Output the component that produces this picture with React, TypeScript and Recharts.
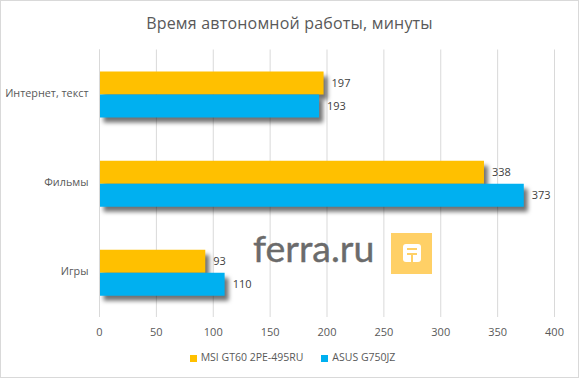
import React from 'react';
import { BarChart, Bar, XAxis, YAxis, CartesianGrid, Legend, LabelList, Rectangle } from 'recharts';

const categories = ['Интернет, текст', 'Фильмы', 'Игры'];
const msiValues = [197, 338, 93];
const asusValues = [193, 373, 110];
const xTicks = [0, 50, 100, 150, 200, 250, 300, 350, 400];

const data = categories.map((name, i) => ({ name, msi: msiValues[i], asus: asusValues[i] }));

const FONT = '"Open Sans", sans-serif';
const TEXT = '#595959';
const LOGO = '#ffd066';

const ShadowBar = (props: any) => (
  <Rectangle {...props} style={{ filter: 'drop-shadow(4px 5px 2px rgba(0,0,0,0.55))' }} />
);

// plain tick so the long label stays on one line
const CategoryTick = ({ x, y, payload }: any) => (
  <text x={x - 3} y={y} dy={3} textAnchor="end" fontSize={10.8} fill={TEXT} fontFamily={FONT}>
    {payload.value}
  </text>
);

const slit = (left: number, top: number, width: number, height: number) => (
  <div style={{ position: 'absolute', left, top, width, height, background: LOGO }} />
);

const App: React.FC = () => {
  return (
    <div style={{ position: 'absolute', left: 0, top: 0, width: 579, height: 378, background: '#fff', fontFamily: FONT, overflow: 'hidden' }}>
      <BarChart
        width={579}
        height={378}
        data={data}
        layout="vertical"
        barGap={0}
        barSize={23}
        margin={{ top: 49.5, right: 24.5, bottom: 17, left: 0 }}
      >
        <CartesianGrid horizontal={false} stroke="#d9d9d9" strokeWidth={1} />
        <XAxis
          type="number"
          domain={[0, 400]}
          ticks={xTicks}
          axisLine={false}
          tickLine={false}
          interval={0}
          tickMargin={5}
          tick={{ fontSize: 11, fill: TEXT, fontFamily: FONT }}
        />
        <YAxis
          type="category"
          dataKey="name"
          width={99.5}
          axisLine={{ stroke: '#d9d9d9' }}
          tickLine={false}
          tick={CategoryTick}
        />
        <Bar dataKey="msi" name="MSI GT60 2PE-495RU" fill="#ffc000" isAnimationActive={false} shape={ShadowBar}>
          <LabelList dataKey="msi" position="right" offset={8} fontSize={11} fill="#404040" fontFamily={FONT} />
        </Bar>
        <Bar dataKey="asus" name="ASUS G750JZ" fill="#00b0f0" isAnimationActive={false} shape={ShadowBar}>
          <LabelList dataKey="asus" position="right" offset={8} fontSize={11} fill="#404040" fontFamily={FONT} />
        </Bar>
        <Legend
          iconType="square"
          iconSize={7}
          itemSorter={null}
          wrapperStyle={{ position: 'absolute', left: 0, width: 579, paddingLeft: 24, boxSizing: 'border-box', top: 350, bottom: 'auto', fontSize: 10.5, fontFamily: FONT }}
          formatter={(value: string) => <span style={{ color: TEXT, marginRight: 8 }}>{value}</span>}
        />
      </BarChart>

      <div style={{ position: 'absolute', left: 0, width: 579, top: 12, textAlign: 'center', fontSize: 16, color: TEXT, letterSpacing: 0.2 }}>
        Время автономной работы, минуты
      </div>

      <div style={{ position: 'absolute', left: 253, top: 220, fontSize: 37.5, lineHeight: '56px', color: '#6b6b6b', fontFamily: 'Lato, sans-serif', WebkitTextStroke: '0.4px #6b6b6b' }}>
        ferra.ru
      </div>
      <div style={{ position: 'absolute', left: 391, top: 233, width: 41, height: 41, background: LOGO }}>
        <div style={{ position: 'absolute', left: 12, top: 11, width: 18, height: 18, background: '#fff', borderRadius: 3 }}>
          {slit(4, 4, 10, 2)}
          {slit(4, 9, 10, 2)}
          {slit(8, 11, 2, 7)}
        </div>
      </div>

      <div style={{ position: 'absolute', left: 0, top: 0, width: 577, height: 376, border: '1px solid #d9d9d9', pointerEvents: 'none' }} />
    </div>
  );
};

export default App;
